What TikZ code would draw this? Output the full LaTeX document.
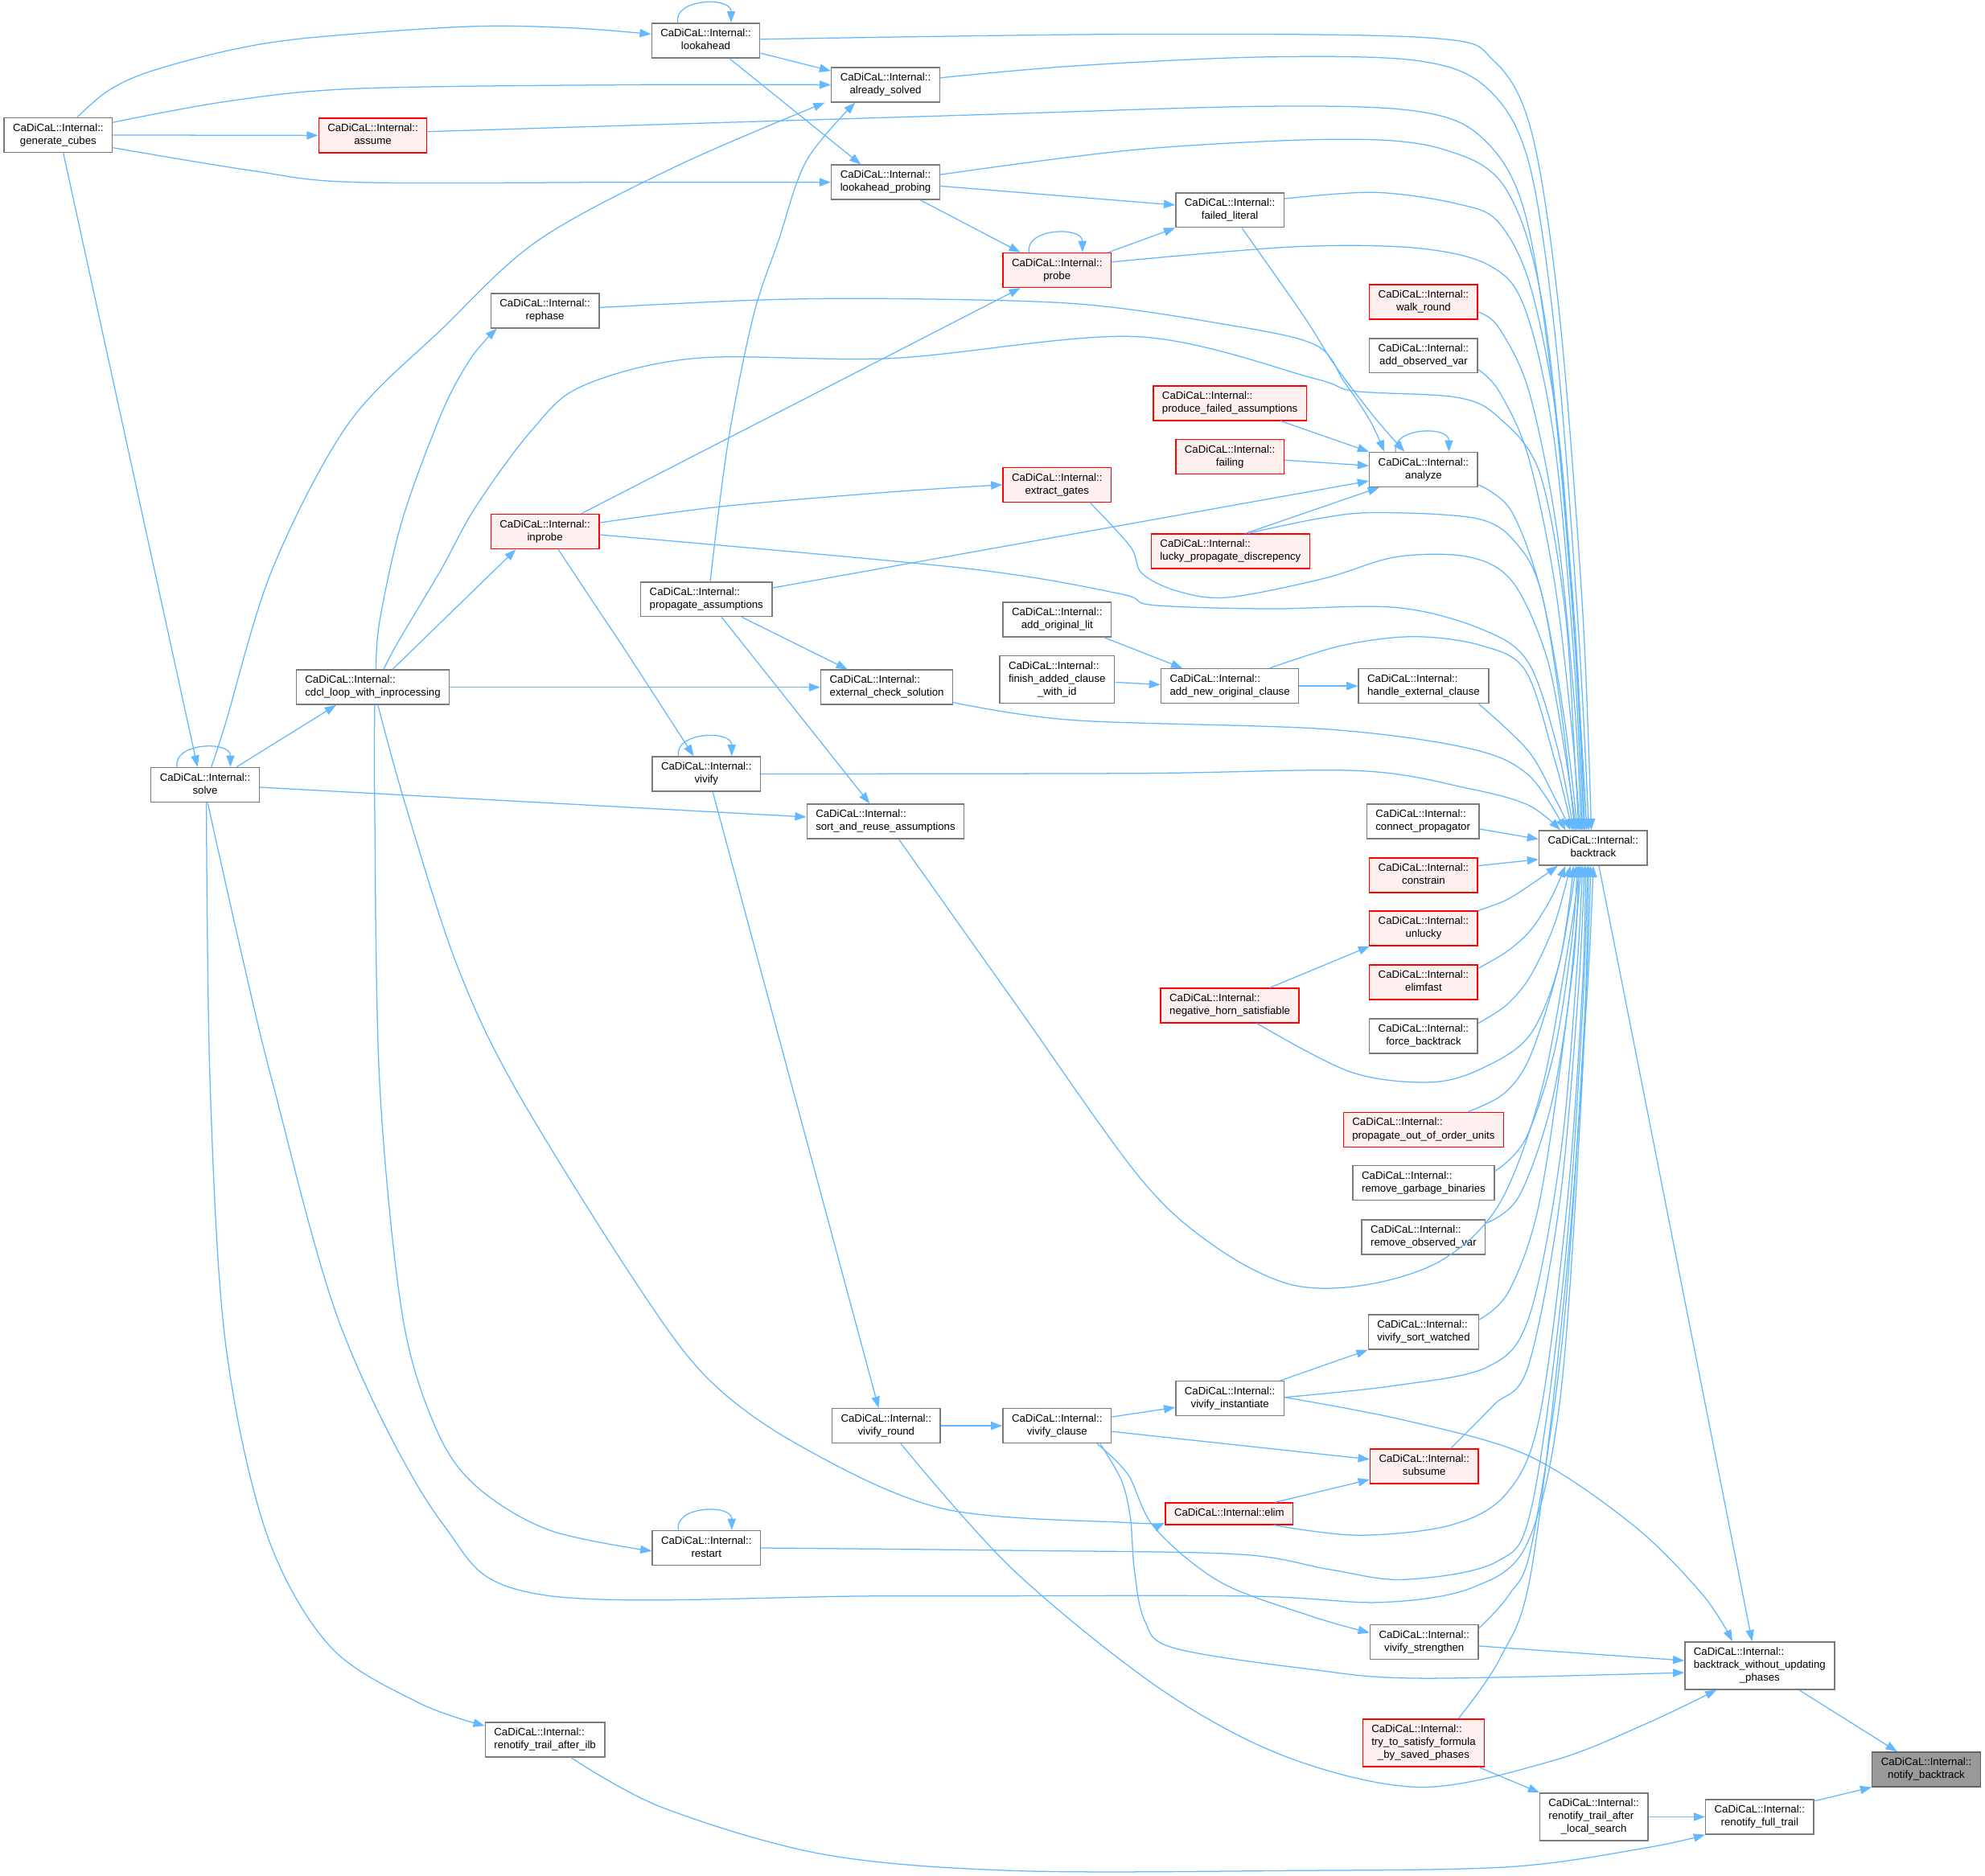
\documentclass[tikz,border=0pt]{standalone}
\usepackage{fontspec}
\setmainfont{Liberation Sans}
\usetikzlibrary{arrows.meta}
\definecolor{edgec}{HTML}{63B8FF}
\definecolor{nbord}{HTML}{7A7A7A}
\definecolor{rfill}{HTML}{FFF0F0}
\definecolor{rootf}{HTML}{999999}
\newcommand{\twoln}[2]{\begin{tabular}{@{}c@{}}\multicolumn{1}{@{}l@{}}{#1}\\#2\end{tabular}}
\newcommand{\threeln}[3]{\begin{tabular}{@{}c@{}}\multicolumn{1}{@{}l@{}}{#1}\\\multicolumn{1}{@{}l@{}}{#2}\\#3\end{tabular}}
\newcommand{\oneln}[1]{\begin{tabular}{@{}c@{}}#1\end{tabular}}
\newcommand{\CI}{CaDiCaL::Internal::}
\newcommand{\selfloop}[1]{\draw[edg] ([xshift=-22pt]#1.north) .. controls ([xshift=-26pt,yshift=19pt]#1.north) and ([xshift=20pt,yshift=21pt]#1.north) .. ([xshift=20pt]#1.north);}
\newcommand{\sedge}[1]{\draw[edg] plot[smooth,tension=0.55] coordinates {#1};}
\begin{document}
\begin{tikzpicture}[x=1pt,y=-1pt,
  nnode/.style={draw=nbord, fill=white, line width=0.9pt, inner xsep=7pt, inner ysep=3.45pt, font=\fontsize{8.4pt}{10.2pt}\selectfont},
  rnode/.style={nnode, draw=red, fill=rfill},
  rootnode/.style={nnode, draw=nbord!80!black, fill=rootf},
  edg/.style={draw=edgec, line width=0.8pt, -{Triangle[length=9pt,width=6.5pt]}}]
\fill[white] (0,0) rectangle (1568,1482);
\useasboundingbox (0,0) rectangle (1568,1482);

% nodes
\node[nnode] (gc) at (46,106.7) {\twoln{\CI}{generate\_cubes}};
\node[nnode] (la) at (557.5,32) {\twoln{\CI}{lookahead}};
\node[nnode] (as) at (699.5,67) {\twoln{\CI}{already\_solved}};
\node[rnode] (asm) at (294.5,107) {\twoln{\CI}{assume}};
\node[nnode] (lp) at (699.5,144) {\twoln{\CI}{lookahead\_probing}};
\node[nnode] (fl) at (971.5,166) {\twoln{\CI}{failed\_literal}};
\node[rnode] (pr) at (835,213.5) {\twoln{\CI}{probe}};
\node[rnode] (wr) at (1124.5,238.5) {\twoln{\CI}{walk\_round}};
\node[nnode] (rp) at (430.5,245.5) {\twoln{\CI}{rephase}};
\node[nnode] (aov) at (1124.5,281) {\twoln{\CI}{add\_observed\_var}};
\node[rnode] (pfa) at (971.5,318.5) {\twoln{\CI}{produce\_failed\_assumptions}};
\node[rnode] (fa) at (971.5,361) {\twoln{\CI}{failing}};
\node[nnode] (an) at (1124.5,371) {\twoln{\CI}{analyze}};
\node[rnode] (eg) at (835,383) {\twoln{\CI}{extract\_gates}};
\node[rnode] (ip) at (430.5,420) {\twoln{\CI}{inprobe}};
\node[rnode] (lu) at (972,435.5) {\twoln{\CI}{lucky\_propagate\_discrepency}};
\node[nnode] (pa) at (558,473.5) {\twoln{\CI}{propagate\_assumptions}};
\node[nnode] (aol) at (835,489.5) {\twoln{\CI}{add\_original\_lit}};
\node[nnode] (fac) at (835,537) {\threeln{\CI}{finish\_added\_clause}{\_with\_id}};
\node[nnode] (anoc) at (971.5,542) {\twoln{\CI}{add\_new\_original\_clause}};
\node[nnode] (hec) at (1124.5,542) {\twoln{\CI}{handle\_external\_clause}};
\node[nnode] (cdcl) at (294.5,543) {\twoln{\CI}{cdcl\_loop\_with\_inprocessing}};
\node[nnode] (ecs) at (700.5,543) {\twoln{\CI}{external\_check\_solution}};
\node[nnode] (vv) at (558,611.5) {\twoln{\CI}{vivify}};
\node[nnode] (sv) at (162,620) {\twoln{\CI}{solve}};
\node[nnode] (sra) at (699.5,649) {\twoln{\CI}{sort\_and\_reuse\_assumptions}};
\node[nnode] (cp) at (1124,649) {\twoln{\CI}{connect\_propagator}};
\node[nnode] (B) at (1258.5,670) {\twoln{\CI}{backtrack}};
\node[rnode] (con) at (1124.5,691.5) {\twoln{\CI}{constrain}};
\node[rnode] (unl) at (1124.5,733.5) {\twoln{\CI}{unlucky}};
\node[rnode] (ef) at (1124.5,776) {\twoln{\CI}{elimfast}};
\node[rnode] (nhs) at (971.5,794.5) {\twoln{\CI}{negative\_horn\_satisfiable}};
\node[nnode] (fb) at (1124.5,818.5) {\twoln{\CI}{force\_backtrack}};
\node[rnode] (pou) at (1124.5,892.5) {\twoln{\CI}{propagate\_out\_of\_order\_units}};
\node[nnode] (rgb) at (1124.5,934.5) {\twoln{\CI}{remove\_garbage\_binaries}};
\node[nnode] (rov) at (1124.5,977.5) {\twoln{\CI}{remove\_observed\_var}};
\node[nnode] (vsw) at (1124.5,1052.5) {\twoln{\CI}{vivify\_sort\_watched}};
\node[nnode] (vi) at (971.5,1105) {\twoln{\CI}{vivify\_instantiate}};
\node[nnode] (vr) at (700,1126.5) {\twoln{\CI}{vivify\_round}};
\node[nnode] (vc) at (835,1126.5) {\twoln{\CI}{vivify\_clause}};
\node[rnode] (sub) at (1125,1158.5) {\twoln{\CI}{subsume}};
\node[rnode] (el) at (971,1196) {\oneln{CaDiCaL::Internal::elim}};
\node[nnode] (rs) at (558,1223) {\twoln{\CI}{restart}};
\node[nnode] (vs) at (1125,1297.5) {\twoln{\CI}{vivify\_strengthen}};
\node[nnode] (bw) at (1390,1316) {\threeln{\CI}{backtrack\_without\_updating}{\_phases}};
\node[rnode] (tts) at (1124.5,1377) {\threeln{\CI}{try\_to\_satisfy\_formula}{\_by\_saved\_phases}};
\node[nnode] (rilb) at (430.5,1374.5) {\twoln{\CI}{renotify\_trail\_after\_ilb}};
\node[rootnode] (nb) at (1521.6,1398) {\twoln{\CI}{notify\_backtrack}};
\node[nnode] (rtals) at (1259,1435.5) {\threeln{\CI}{renotify\_trail\_after}{\_local\_search}};
\node[nnode] (rft) at (1390,1435.5) {\twoln{\CI}{renotify\_full\_trail}};

% self loops
\selfloop{la}
\selfloop{pr}
\selfloop{an}
\selfloop{vv}
\selfloop{sv}
\selfloop{rs}

% left / top-left
\sedge{([xshift=15pt]gc.north) (85,72) (117,57) (180,40) (243,30) (369,21) (450,22) ([yshift=5pt]la.west)}
\sedge{([yshift=10pt]gc.east) (180,80) (282,70) (500,67) (as.west)}
\draw[edg] (gc.east) -- (asm.west);
\sedge{([yshift=-10pt]gc.east) (200,135) (282,144) (500,144) (lp.west)}
\draw[edg] ([xshift=4pt]gc.south) -- ([xshift=-6pt]sv.north);
\draw[edg] ([yshift=-10pt]la.east) -- ([yshift=11pt]as.west);
\draw[edg] ([xshift=18.5pt]la.south) -- ([xshift=-19.5pt]lp.north);
\draw[edg] ([yshift=-3pt]lp.east) -- ([yshift=4pt]fl.west);
\draw[edg] ([xshift=27.5pt]lp.south) -- ([xshift=-29pt]pr.north);
\draw[edg] ([xshift=40.5pt]pr.north) -- (fl.south west);
\sedge{([xshift=9.5pt]fl.south) (1030,250) (1054,288) (1086,330) ([xshift=-15pt]an.north)}
\draw[edg] ([xshift=28.5pt]ip.north) -- ([xshift=-29pt]pr.south);
\sedge{([yshift=2.5pt]rp.east) (600,237) (706,236) (850,240) (960,255) (1038,272) (1062,302) (1082,332) ([xshift=-31pt]an.north)}
\sedge{([xshift=2.5pt]cdcl.north) (300,490) (318,410) (349,326) (372,283) ([xshift=-38pt]rp.south)}
\draw[edg] ([xshift=15.5pt]cdcl.north) -- ([xshift=-23pt]ip.south);
\draw[edg] (cdcl.east) -- (ecs.west);
\sedge{([xshift=4pt]cdcl.south) (320,635) (360,760) (406,858) (500,1010) (560,1090) (635,1144) (745,1192) (890,1203) ([yshift=-7pt]el.west)}
\sedge{([xshift=1.5pt]cdcl.south) (296,640) (300,858) (318,1040) (345,1130) (377,1175) (434,1209) ([yshift=-2.5pt]rs.west)}
\draw[edg] ([xshift=40pt]pfa.south) -- (an.north west);
\draw[edg] ([yshift=-2.5pt]fa.east) -- ([yshift=3pt]an.west);
\draw[edg] ([yshift=9pt]pa.east) -- ([yshift=-9pt]an.west);
\draw[edg] ([xshift=12pt]lu.north) -- ([xshift=-35pt]an.south);
\sedge{([yshift=7pt]ip.east) (572,400) (700,389) (eg.west)}
\sedge{([xshift=10.5pt]ip.south) (470,478) (496,517) ([xshift=-10pt]vv.north)}
\sedge{([xshift=3pt]pa.north) (575,350) (595,250) (615,190) (637,127) ([xshift=-24pt]as.south)}
\draw[edg] ([xshift=28pt]pa.south) -- ([xshift=-31pt]ecs.north);
\draw[edg] ([xshift=12pt]pa.south) -- ([xshift=-12.5pt]sra.north);
\draw[edg] ([xshift=37pt]aol.south) -- ([xshift=-37.5pt]anoc.north);
\draw[edg] ([yshift=-2pt]fac.east) -- ([yshift=1pt]anoc.west);
\draw[edg] (anoc.east) -- (hec.west);
\draw[edg] ([xshift=5pt]vv.south) -- ([xshift=-6pt]vr.north);
\sedge{([xshift=5pt]sv.north) (178,572) (215,450) (275,335) (349,260) (425,190) (535,131) ([xshift=-48pt]as.south)}
\draw[edg] ([xshift=25pt]sv.north) -- ([xshift=-29pt]cdcl.south);
\draw[edg] ([yshift=-2pt]sv.east) -- ([yshift=3.5pt]sra.west);
\sedge{([xshift=1pt]sv.south) (166,858) (178,1060) (210,1210) (260,1300) (330,1345) ([yshift=11pt]rilb.west)}
\draw[edg] ([xshift=31.5pt]nhs.north) -- ([xshift=-42.5pt]unl.south);
\draw[edg] (vr.east) -- (vc.west);
\sedge{([xshift=11.5pt]vr.south) (800,1240) (916,1334) (1016,1388) (1122,1412) (1227,1391) (1300,1362) ([xshift=-34pt]bw.south)}
\draw[edg] ([yshift=7pt]vc.east) -- ([yshift=-7pt]vi.west);
\draw[edg] ([yshift=-4.5pt]vc.east) -- ([yshift=5.5pt]sub.west);
\sedge{([xshift=31.5pt]vc.south) (891,1165) (912,1207) (964,1250) (1036,1277) ([yshift=7.5pt]vs.west)}
\sedge{([xshift=34pt]vc.south) (886,1170) (893,1200) (896,1240) (904,1280) (927,1302) (1036,1319) (1122,1326) ([yshift=-5.5pt]bw.west)}
\draw[edg] ([xshift=36pt]el.north) -- ([yshift=-10.5pt]sub.west);
\draw[edg] ([yshift=-3pt]vs.east) -- ([yshift=4pt]bw.west);
\sedge{([yshift=1pt]vi.east) (1109,1122) (1207,1150) (1290,1205) (1345,1260) ([xshift=-21.5pt]bw.north)}
\draw[edg] ([xshift=39.5pt]vi.north) -- (vsw.south west);
\draw[edg] ([xshift=4.5pt]B.south) -- ([xshift=-6pt]bw.north);
\draw[edg] ([xshift=43.5pt]tts.south) -- ([xshift=-43pt]rtals.north);
\draw[edg] (rtals.east) -- (rft.west);
\sedge{([xshift=20.5pt]rilb.south) (523,1428) (650,1465) (800,1478) (1016,1478) (1192,1475) (1300,1460) (rft.south west)}
\draw[edg] ([yshift=12.5pt]rft.east) -- (nb.south west);
\draw[edg] ([xshift=31pt]bw.south) -- ([xshift=-23pt]nb.north);

% into backtrack from above
\sedge{([yshift=1pt]la.east) (900,27) (1130,30) (1180,48) (1210,105) (1232,250) (1250,480) ([xshift=-1.5pt]B.north)}
\sedge{([yshift=5.5pt]as.east) (850,52) (1000,45) (1120,48) (1175,70) (1208,130) (1230,280) (1247,500) ([xshift=-3.5pt]B.north)}
\sedge{([yshift=3pt]asm.east) (762,91) (1000,84) (1120,88) (1172,110) (1205,170) (1228,320) (1245,520) ([xshift=-5pt]B.north)}
\sedge{([yshift=6pt]lp.east) (900,118) (1060,110) (1140,118) (1190,150) (1220,250) (1243,480) ([xshift=-6.5pt]B.north)}
\sedge{([yshift=9pt]fl.east) (1086,152) (1151,161) (1184,176) (1210,230) (1232,350) (1246,540) ([xshift=-7.5pt]B.north)}
\sedge{([yshift=6.5pt]pr.east) (1022,195) (1119,196) (1177,210) (1205,245) (1228,350) (1244,530) ([xshift=-8.5pt]B.north)}
\sedge{([yshift=-8pt]wr.east) (1184,259) (1208,310) (1230,420) (1244,560) ([xshift=-9.5pt]B.north)}
\sedge{([yshift=-11pt]aov.east) (1184,309) (1207,360) (1228,460) (1242,580) ([xshift=-10.5pt]B.north)}
\sedge{([xshift=8.5pt]cdcl.north) (314,508) (349,449) (376,400) (420,340) (460,305) (550,283) (706,283) (898,266) (1038,299) (1070,309) (1151,314) (1184,330) (1216,373) (1236,480) (1244,600) ([xshift=-11.5pt]B.north)}
\sedge{([yshift=-12pt]an.east) (1194,404) (1218,470) (1236,570) ([xshift=-12.5pt]B.north)}
\sedge{([xshift=26pt]eg.south) (893,432) (902,453) (930,467) (970,472) (1046,457) (1103,440) (1160,440) (1195,460) (1222,520) (1237,600) ([xshift=-13.5pt]B.north)}
\sedge{([xshift=14pt]lu.north) (1040,410) (1086,405) (1168,410) (1200,432) (1218,470) (1233,560) ([xshift=-14.5pt]B.north)}
\sedge{([yshift=-2.5pt]ip.east) (762,449) (884,469) (910,478) (1000,481) (1103,480) (1170,497) (1207,523) (1230,590) ([xshift=-15.5pt]B.north)}
\sedge{([xshift=31.5pt]anoc.north) (1060,510) (1117,503) (1170,510) (1205,530) (1228,600) ([xshift=-16.5pt]B.north)}
\sedge{([xshift=43.5pt]hec.south) (1207,593) (1228,630) ([xshift=-18pt]B.north)}
\sedge{([yshift=-12pt]ecs.east) (848,569) (1046,576) (1159,591) (1207,612) ([xshift=-22pt]B.north)}
\sedge{(vv.east) (900,611) (1074,609) (1160,623) (1207,636) ([xshift=-26pt]B.north)}
\draw[edg] ([yshift=-6pt]cp.east) -- ([yshift=7pt]B.west);
\draw[edg] ([yshift=7.5pt]con.east) -- ([yshift=-9pt]B.west);

% into backtrack from below
\sedge{(unl.north east) (1190,711) (1212,697) ([xshift=-28pt]B.south)}
\sedge{([yshift=11pt]ef.east) (1190,752) (1209,735) (1225,710) ([xshift=-22pt]B.south)}
\sedge{([yshift=10pt]fb.east) (1190,794) (1209,771) (1228,730) ([xshift=-18pt]B.south)}
\sedge{([xshift=21.5pt]nhs.south) (1067,847) (1131,855) (1173,843) (1209,817) (1232,760) ([xshift=-15.5pt]B.south)}
\sedge{([xshift=35pt]pou.north) (1188,864) (1209,834) (1232,760) ([xshift=-13.5pt]B.south)}
\sedge{([yshift=9pt]rgb.east) (1205,900) (1228,830) (1242,740) ([xshift=-12.5pt]B.south)}
\sedge{([yshift=11pt]rov.east) (1200,945) (1226,870) (1243,760) ([xshift=-11.5pt]B.south)}
\sedge{([xshift=10.5pt]sra.south) (800,790) (900,930) (960,985) (1020,1015) (1080,1015) (1140,995) (1185,950) (1218,860) (1240,740) ([xshift=-10.5pt]B.south)}
\sedge{([yshift=10pt]vsw.east) (1192,1020) (1216,950) (1238,800) ([xshift=-9.5pt]B.south)}
\sedge{([yshift=1pt]vi.east) (1100,1095) (1175,1080) (1208,1040) (1233,910) (1246,760) ([xshift=-8.5pt]B.south)}
\sedge{([xshift=21pt]sub.north) (1180,1110) (1207,1080) (1232,950) (1247,780) ([xshift=-7pt]B.south)}
\sedge{([xshift=35pt]el.south) (1073,1213) (1146,1205) (1190,1180) (1216,1120) (1238,950) (1250,780) ([xshift=-6pt]B.south)}
\sedge{(rs.east) (800,1225) (978,1228) (1050,1240) (1109,1248) (1182,1234) (1210,1190) (1236,1000) (1250,800) ([xshift=-4.5pt]B.south)}
\sedge{([xshift=2pt]sv.south) (190,750) (216,858) (270,1050) (349,1203) (428,1260) (700,1261) (981,1261) (1091,1266) (1164,1254) (1207,1218) (1233,1100) (1250,850) ([xshift=-3.5pt]B.south)}
\sedge{([yshift=11pt]vs.east) (1192,1260) (1210,1220) (1235,1050) (1252,800) ([xshift=-2pt]B.south)}
\sedge{([xshift=27.5pt]tts.north) (1185,1310) (1210,1239) (1238,1000) (1254,780) (B.south)}
\end{tikzpicture}
\end{document}
